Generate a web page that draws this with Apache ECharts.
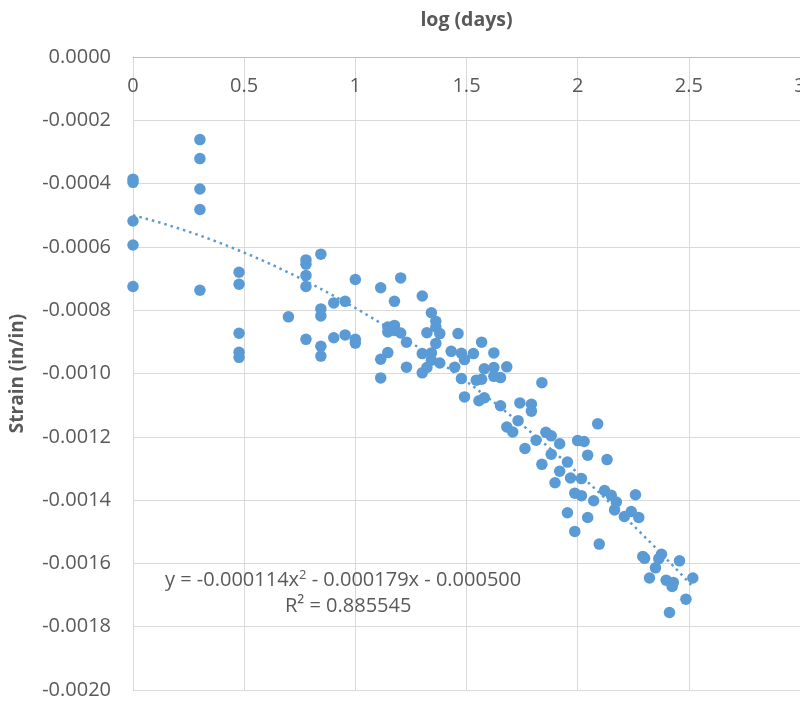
<!DOCTYPE html>
<html>
<head>
<meta charset="utf-8">
<script src="https://cdn.jsdelivr.net/npm/echarts@6/dist/echarts.min.js"></script>
<style>html,body{margin:0;padding:0;background:#fff}#c{width:800px;height:702px}</style>
</head>
<body>
<div id="c"></div>
<script>
// log(days)
var logDays = [
  0, 0, 0, 0, 0,
  0.301, 0.301, 0.301, 0.301, 0.301,
  0.477, 0.477, 0.477, 0.477, 0.477,
  0.699,
  0.778, 0.778, 0.778, 0.778, 0.778,
  0.845, 0.845, 0.845, 0.845, 0.845,
  0.903, 0.903, 0.954, 0.954,
  1.000, 1.000, 1.000,
  1.114, 1.114, 1.114,
  1.146, 1.146, 1.146,
  1.176, 1.176, 1.176,
  1.204, 1.204, 1.230, 1.230,
  1.301, 1.301, 1.301, 1.322, 1.322,
  1.342, 1.342, 1.342, 1.362, 1.362, 1.362,
  1.380, 1.380, 1.431, 1.447, 1.462,
  1.477, 1.477, 1.491, 1.491, 1.531, 1.544, 1.556,
  1.568, 1.568, 1.580, 1.580,
  1.623, 1.623, 1.623, 1.653, 1.653, 1.681, 1.681,
  1.708, 1.732, 1.740, 1.763, 1.792, 1.792, 1.813,
  1.839, 1.839, 1.857, 1.881, 1.881, 1.898, 1.919, 1.919,
  1.954, 1.954, 1.968, 1.987, 1.987, 2.000, 2.017, 2.017,
  2.029, 2.045, 2.045, 2.072, 2.090, 2.097, 2.121, 2.132,
  2.151, 2.166, 2.174, 2.210, 2.241, 2.260, 2.275, 2.293,
  2.301, 2.323, 2.350, 2.365, 2.377, 2.398, 2.413, 2.425,
  2.430, 2.458, 2.487, 2.518
];
// strain (in/in)
var strain = [
  -0.000386, -0.000396, -0.000518, -0.000594, -0.000725,
  -0.000261, -0.000321, -0.000417, -0.000482, -0.000737,
  -0.000680, -0.000718, -0.000873, -0.000933, -0.000949,
  -0.000821,
  -0.000641, -0.000655, -0.000690, -0.000725, -0.000892,
  -0.000623, -0.000796, -0.000818, -0.000914, -0.000945,
  -0.000777, -0.000887, -0.000772, -0.000878,
  -0.000703, -0.000892, -0.000904,
  -0.000729, -0.000955, -0.001014,
  -0.000853, -0.000869, -0.000934,
  -0.000772, -0.000848, -0.000864,
  -0.000698, -0.000872, -0.000901, -0.000980,
  -0.000755, -0.000937, -0.000998, -0.000871, -0.000981,
  -0.000808, -0.000935, -0.000958, -0.000835, -0.000853, -0.000905,
  -0.000874, -0.000967, -0.000930, -0.000980, -0.000874,
  -0.000936, -0.001016, -0.000956, -0.001074, -0.000937, -0.001021, -0.001086,
  -0.000901, -0.001018, -0.000985, -0.001077,
  -0.000935, -0.000981, -0.001009, -0.001013, -0.001102, -0.000979, -0.001169,
  -0.001185, -0.001149, -0.001093, -0.001237, -0.001097, -0.001119, -0.001211,
  -0.001029, -0.001287, -0.001186, -0.001197, -0.001255, -0.001345, -0.001222, -0.001309,
  -0.001280, -0.001440, -0.001330, -0.001378, -0.001499, -0.001212, -0.001332, -0.001386,
  -0.001215, -0.001258, -0.001455, -0.001402, -0.001159, -0.001539, -0.001370, -0.001272,
  -0.001385, -0.001431, -0.001406, -0.001452, -0.001436, -0.001383, -0.001455, -0.001578,
  -0.001584, -0.001646, -0.001614, -0.001585, -0.001571, -0.001653, -0.001755, -0.001673,
  -0.001660, -0.001592, -0.001713, -0.001646
];
// polynomial trendline coefficients shown on the chart: [x^2, x, const]
var trendCoef = [-0.000114, -0.000179, -0.000500];
var trendText = ['y = -0.000114x{sup|2} - 0.000179x - 0.000500', 'R² = 0.885545'];

var pts = logDays.map(function (x, i) { return [x, strain[i]]; });
var xMaxData = Math.max.apply(null, logDays);
var trend = [];
for (var k = 0; k <= 126; k++) {
  var x = xMaxData * k / 126;
  trend.push([x, trendCoef[0] * x * x + trendCoef[1] * x + trendCoef[2]]);
}

var FONT = '"Open Sans", "Noto Sans", sans-serif';
var TXT = '#595959';
var chart = echarts.init(document.getElementById('c'), null, { renderer: 'canvas' });
chart.setOption({
  animation: false,
  backgroundColor: '#ffffff',
  grid: { left: 133, top: 57, width: 667, height: 633, containLabel: false, outerBoundsMode: 'none' },
  xAxis: {
    type: 'value', position: 'top', min: 0, max: 3, interval: 0.5,
    name: 'log (days)', nameLocation: 'middle', nameGap: 27,
    nameTextStyle: { fontFamily: FONT, fontWeight: 'bold', fontSize: 19.5, color: TXT },
    axisLine: { show: true, onZero: false, lineStyle: { color: '#bfbfbf', width: 1 } },
    axisTick: { show: false },
    axisLabel: { inside: true, margin: 19, fontFamily: FONT, fontSize: 20, color: TXT, showMaxLabel: true,
      formatter: function (v) { return String(v); } },
    splitLine: { show: true, lineStyle: { color: '#d9d9d9', width: 1 } }
  },
  yAxis: {
    type: 'value', min: -0.002, max: 0, interval: 0.0002,
    name: 'Strain (in/in)', nameLocation: 'middle', nameGap: 106, nameRotate: 90,
    nameTextStyle: { fontFamily: FONT, fontWeight: 'bold', fontSize: 19, color: TXT },
    axisLine: { show: true, lineStyle: { color: '#d9d9d9' } },
    axisTick: { show: false },
    axisLabel: { margin: 22, fontFamily: FONT, fontSize: 20, color: TXT,
      formatter: function (v) { var s = Math.abs(v) < 1e-12 ? 0 : v; return s.toFixed(4); } },
    splitLine: { show: true, lineStyle: { color: '#d9d9d9', width: 1 } }
  },
  series: [
    {
      type: 'scatter', data: pts, symbol: 'circle', symbolSize: 11.5,
      itemStyle: { color: '#5B9BD5', opacity: 1 }, z: 2
    },
    {
      type: 'line', data: trend, showSymbol: false, symbol: 'none', smooth: false,
      lineStyle: { color: '#5B9BD5', width: 2.5, type: [2.5, 4] }, z: 3
    }
  ],
  graphic: [
    { type: 'text', left: 165, top: 569, z: 10,
      style: { text: trendText[0], fontFamily: FONT, fontSize: 20, fill: TXT,
        rich: { sup: { fontSize: 13, verticalAlign: 'top', padding: [0, 0, 10, 0], fill: TXT, fontFamily: FONT } } } },
    { type: 'text', left: 285, top: 596, z: 10,
      style: { text: trendText[1], fontFamily: FONT, fontSize: 20, fill: TXT } }
  ]
});
</script>
</body>
</html>
